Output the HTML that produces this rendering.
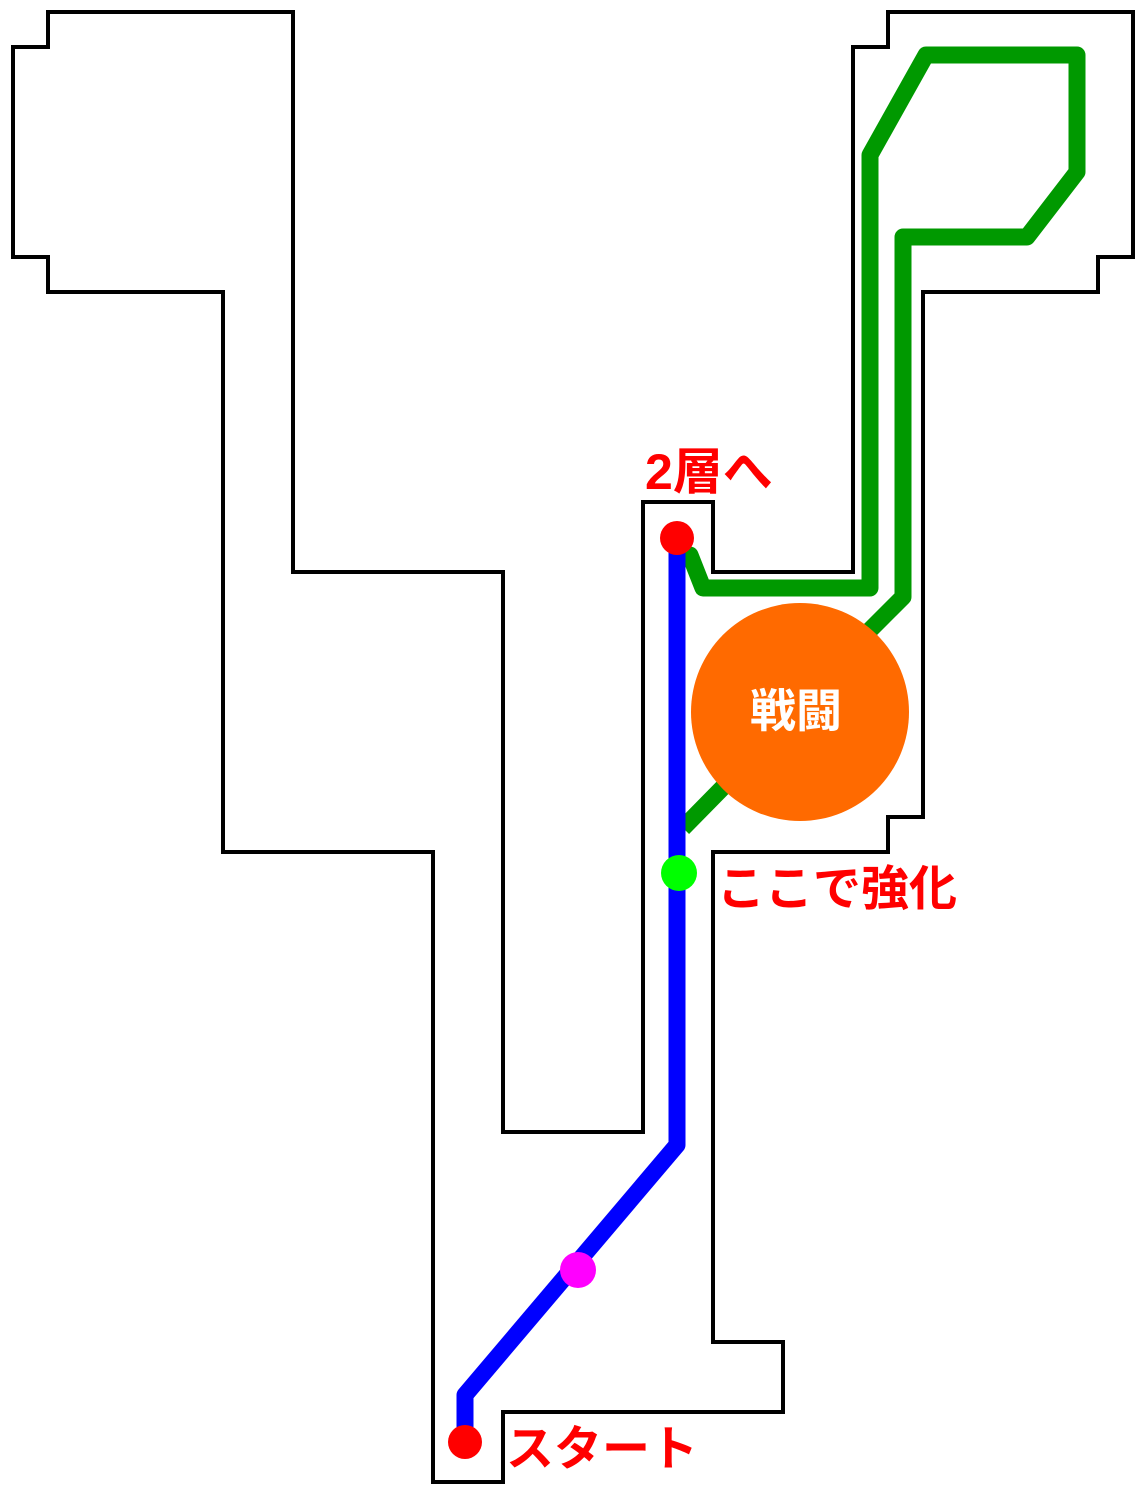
<!DOCTYPE html>
<html><head><meta charset="utf-8"><style>
html,body{margin:0;padding:0;background:#fff;}
svg{display:block;}
text{font-family:"Liberation Sans","Noto Sans CJK JP",sans-serif;font-weight:bold;}
</style></head><body>
<svg width="1146" height="1496" viewBox="0 0 1146 1496" xmlns="http://www.w3.org/2000/svg">
<rect width="1146" height="1496" fill="#fff"/>
<polygon fill="none" stroke="#000" stroke-width="4" points="48,12 293,12 293,572 503,572 503,1132 643,1132 643,502 713,502 713,572 853,572 853,47 888,47 888,12 1133,12 1133,257 1098,257 1098,292 923,292 923,817 888,817 888,852 713,852 713,1342 783,1342 783,1412 503,1412 503,1482 433,1482 433,852 223,852 223,292 48,292 48,257 13,257 13,47 48,47"/>
<g fill="none" stroke="#009900" stroke-width="17" stroke-linejoin="round" stroke-linecap="round">
<polyline points="690,555 703,588 870,588 870,155 926,55 1077,55 1077,172 1027,237 903,237 903,597 840,660"/>
<line x1="740" y1="770" x2="683" y2="828" stroke-linecap="butt"/>
</g>
<polyline fill="none" stroke="#0000ff" stroke-width="17" stroke-linejoin="round" points="677,538 677,1145 465,1395 465,1440"/>
<circle cx="800" cy="712" r="109" fill="#ff6a00"/>
<text x="796" y="727" font-size="46" fill="#fff" text-anchor="middle">戦闘</text>
<circle cx="677" cy="538" r="17" fill="#ff0000"/>
<circle cx="465" cy="1442" r="17" fill="#ff0000"/>
<circle cx="679" cy="873" r="18" fill="#00ff00"/>
<circle cx="578" cy="1270" r="18" fill="#ff00ff"/>
<text x="645" y="489" font-size="50" fill="#ff0000">2層へ</text>
<text x="717" y="905" font-size="48" fill="#ff0000">ここで強化</text>
<text x="506" y="1465" font-size="48" fill="#ff0000">スタート</text>
</svg>
</body></html>
